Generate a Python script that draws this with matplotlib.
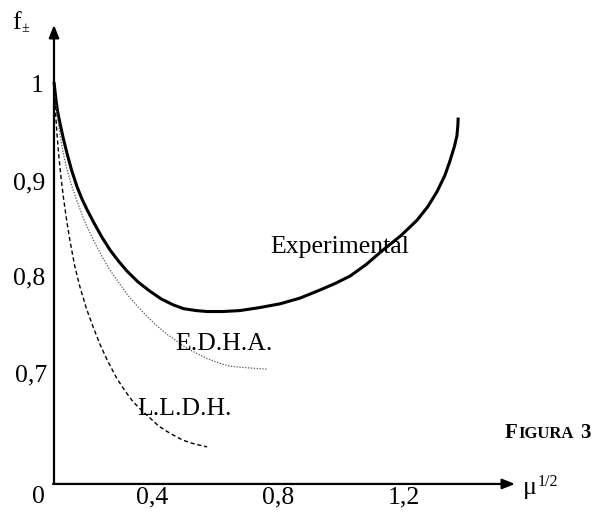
import matplotlib
matplotlib.use("Agg")
import matplotlib.pyplot as plt

plt.rcParams['font.family'] = ['Liberation Serif', 'DejaVu Serif']

# curves (x = mu^(1/2), y = f+-)
exp_x = [0.089, 0.095, 0.100, 0.108, 0.118, 0.130, 0.145, 0.162, 0.178, 0.194,
         0.213, 0.240, 0.267, 0.295, 0.321, 0.355, 0.394, 0.430, 0.467, 0.500,
         0.540, 0.575, 0.625, 0.679, 0.740, 0.806, 0.870, 0.930, 0.980, 1.029,
         1.080, 1.133, 1.190, 1.241, 1.275, 1.305, 1.330, 1.346, 1.360, 1.368,
         1.371, 1.372]
exp_y = [1.003, 0.985, 0.973, 0.960, 0.945, 0.929, 0.911, 0.894, 0.881, 0.870,
         0.858, 0.842, 0.828, 0.816, 0.806, 0.795, 0.785, 0.777, 0.771, 0.767,
         0.765, 0.764, 0.764, 0.765, 0.768, 0.772, 0.778, 0.786, 0.793, 0.801,
         0.813, 0.828, 0.843, 0.859, 0.873, 0.889, 0.906, 0.921, 0.936, 0.947,
         0.958, 0.966]

edha_x = [0.089, 0.093, 0.098, 0.103, 0.108, 0.115, 0.122, 0.130, 0.145, 0.162,
          0.185, 0.213, 0.240, 0.267, 0.295, 0.321, 0.355, 0.387, 0.416, 0.445,
          0.467, 0.495, 0.521, 0.550, 0.575, 0.600, 0.625, 0.650, 0.679, 0.720,
          0.765]
edha_y = [1.000, 0.986, 0.972, 0.960, 0.948, 0.935, 0.923, 0.912, 0.895, 0.879,
          0.859, 0.839, 0.822, 0.807, 0.794, 0.782, 0.769, 0.758, 0.749, 0.741,
          0.736, 0.729, 0.724, 0.719, 0.715, 0.712, 0.709, 0.707, 0.706, 0.705,
          0.704]

lldh_x = [0.089, 0.093, 0.098, 0.104, 0.111, 0.120, 0.130, 0.140, 0.155, 0.171,
          0.192, 0.213, 0.236, 0.260, 0.289, 0.315, 0.340, 0.367, 0.394, 0.420,
          0.448, 0.475, 0.498, 0.535, 0.575]
lldh_y = [1.000, 0.975, 0.951, 0.927, 0.904, 0.880, 0.857, 0.837, 0.811, 0.790,
          0.767, 0.748, 0.729, 0.712, 0.694, 0.681, 0.670, 0.661, 0.653, 0.645,
          0.639, 0.634, 0.630, 0.626, 0.623]

x_ticks = ['0', '0,4', '0,8', '1,2']
x_tick_pos = [0.038, 0.4, 0.8, 1.2]
y_ticks = ['1', '0,9', '0,8', '0,7']
y_tick_pos = [0.993, 0.891, 0.792, 0.691]
y_tick_x = [0.0365, 0.0095, 0.0095, 0.016]

fig = plt.figure(figsize=(5.96, 5.14), dpi=100)
ax = fig.add_axes([0, 0, 1, 1])
ax.set_xlim(-0.0825, 1.8095)
ax.set_ylim(0.5531, 1.0885)
ax.axis('off')

x0, y0 = 0.0889, 0.5844
# axes with arrows
ax.annotate('', xy=(x0, 1.0625), xytext=(x0, y0),
            arrowprops=dict(arrowstyle='-|>,head_length=0.75,head_width=0.3',
                            lw=1.6, color='k', shrinkA=0, shrinkB=0))
ax.annotate('', xy=(1.5524, y0), xytext=(x0 - 0.003, y0),
            arrowprops=dict(arrowstyle='-|>,head_length=0.75,head_width=0.3',
                            lw=1.6, color='k', shrinkA=0, shrinkB=0))

ax.plot(exp_x, exp_y, color='k', lw=2.2, solid_capstyle='butt',
        solid_joinstyle='round')
ax.plot(edha_x, edha_y, color='#555555', lw=0.9, linestyle=(0, (1, 1.3)))
ax.plot(lldh_x, lldh_y, color='k', lw=1.0, linestyle=(0, (3, 2)))

fs = 18.5
for lab, xp in zip(x_ticks, x_tick_pos):
    ax.text(xp, 0.5646, lab, fontsize=fs, ha='center', va='baseline')
for lab, yp, xp in zip(y_ticks, y_tick_pos, y_tick_x):
    ax.text(xp, yp, lab, fontsize=fs, ha='center', va='baseline')

ax.text(0.7746, 0.825, 'Experimental', fontsize=fs, va='baseline')
ax.text(0.473, 0.724, 'E.D.H.A.', fontsize=fs, va='baseline')
ax.text(0.352, 0.656, 'L.L.D.H.', fontsize=fs, va='baseline')

# axis names
ax.text(-0.0445, 1.0582, 'f', fontsize=fs, va='baseline')
ax.text(-0.0159, 1.055, '±', fontsize=10, va='baseline')
ax.text(1.578, 0.5740, 'μ', fontsize=fs, va='baseline')
ax.text(1.624, 0.5823, '1/2', fontsize=11.5, va='baseline')

# FIGURA 3 in small caps
ax.text(1.5206, 0.6323, 'F', fontsize=15, fontweight='bold', va='baseline')
ax.text(1.5635, 0.6323, 'IGURA', fontsize=12, fontweight='bold', va='baseline')
ax.text(1.7587, 0.6323, '3', fontsize=15, fontweight='bold', va='baseline')

fig.savefig('out.png', dpi=100)
